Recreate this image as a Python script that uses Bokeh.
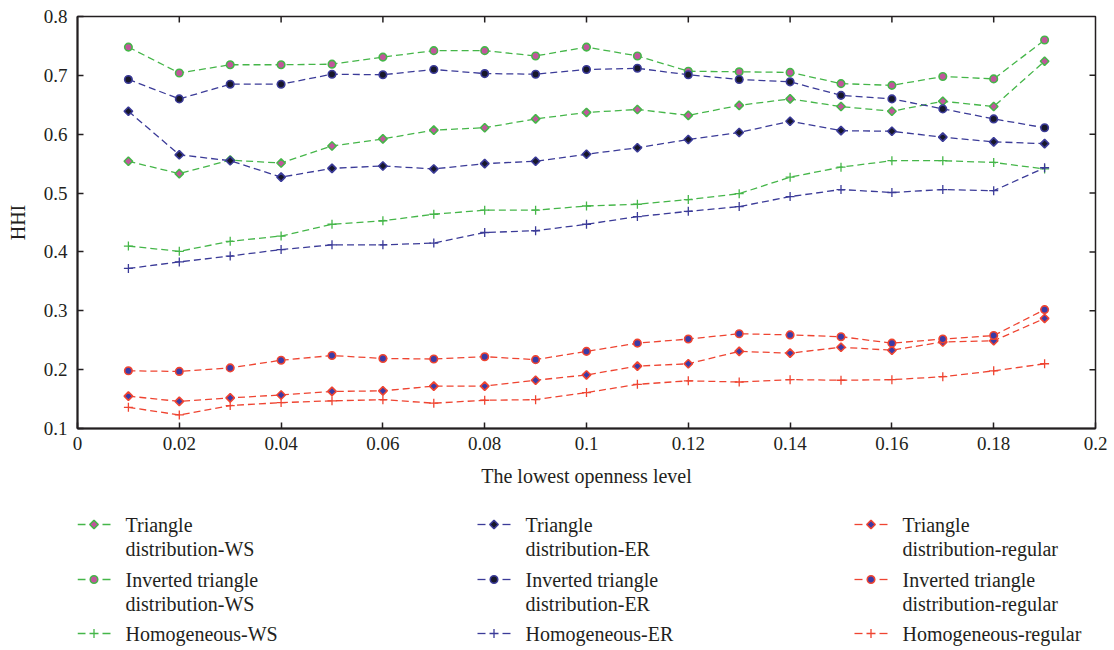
import numpy as np
from bokeh.plotting import figure
from bokeh.models import Range1d, FixedTicker
from bokeh.layouts import column
from bokeh.core.properties import value
from bokeh.embed import file_html
from bokeh.resources import INLINE

# ---------------- data ----------------
x = [0.01, 0.02, 0.03, 0.04, 0.05, 0.06, 0.07, 0.08, 0.09, 0.10,
     0.11, 0.12, 0.13, 0.14, 0.15, 0.16, 0.17, 0.18, 0.19]

tri_ws = [0.554, 0.533, 0.556, 0.551, 0.580, 0.592, 0.607, 0.611, 0.626, 0.637,
          0.642, 0.632, 0.649, 0.660, 0.647, 0.639, 0.656, 0.647, 0.724]
inv_ws = [0.748, 0.704, 0.718, 0.718, 0.719, 0.731, 0.742, 0.742, 0.733, 0.748,
          0.733, 0.707, 0.706, 0.705, 0.686, 0.683, 0.698, 0.694, 0.760]
hom_ws = [0.410, 0.401, 0.418, 0.427, 0.447, 0.453, 0.464, 0.471, 0.471, 0.478,
          0.481, 0.489, 0.499, 0.527, 0.544, 0.555, 0.555, 0.552, 0.541]

tri_er = [0.639, 0.565, 0.555, 0.527, 0.542, 0.546, 0.541, 0.550, 0.554, 0.566,
          0.577, 0.591, 0.603, 0.622, 0.606, 0.605, 0.595, 0.587, 0.584]
inv_er = [0.693, 0.660, 0.685, 0.685, 0.702, 0.701, 0.710, 0.703, 0.702, 0.710,
          0.712, 0.701, 0.693, 0.689, 0.666, 0.660, 0.643, 0.626, 0.611]
hom_er = [0.372, 0.383, 0.393, 0.404, 0.412, 0.412, 0.415, 0.433, 0.436, 0.447,
          0.460, 0.469, 0.477, 0.494, 0.506, 0.501, 0.506, 0.504, 0.543]

tri_reg = [0.155, 0.146, 0.152, 0.157, 0.163, 0.164, 0.172, 0.172, 0.182, 0.191,
           0.206, 0.210, 0.231, 0.228, 0.238, 0.233, 0.247, 0.249, 0.287]
inv_reg = [0.198, 0.197, 0.203, 0.216, 0.224, 0.219, 0.218, 0.222, 0.217, 0.231,
           0.245, 0.252, 0.261, 0.259, 0.256, 0.245, 0.252, 0.258, 0.302]
hom_reg = [0.136, 0.123, 0.139, 0.144, 0.147, 0.149, 0.143, 0.148, 0.149, 0.161,
           0.175, 0.181, 0.179, 0.183, 0.182, 0.183, 0.188, 0.198, 0.210]

x_ticks = [0, 0.02, 0.04, 0.06, 0.08, 0.1, 0.12, 0.14, 0.16, 0.18, 0.2]
x_tick_labels = ["0", "0.02", "0.04", "0.06", "0.08", "0.1", "0.12", "0.14", "0.16", "0.18", "0.2"]
y_ticks = [0.1, 0.2, 0.3, 0.4, 0.5, 0.6, 0.7, 0.8]
y_tick_labels = ["0.1", "0.2", "0.3", "0.4", "0.5", "0.6", "0.7", "0.8"]

labels = [
    ["Triangle\ndistribution-WS", "Inverted triangle\ndistribution-WS", "Homogeneous-WS"],
    ["Triangle\ndistribution-ER", "Inverted triangle\ndistribution-ER", "Homogeneous-ER"],
    ["Triangle\ndistribution-regular", "Inverted triangle\ndistribution-regular", "Homogeneous-regular"],
]

# ---------------- styles ----------------
FONT = "Liberation Serif"
TXT = "#231f20"
GREEN = "#45b649"
PINK = "#c2559c"
NAVY = "#3b3b98"
DARK = "#17172a"
RED = "#ef4431"
BLUE = "#3b3ba6"
DASH = "7 4"

groups = [
    (GREEN, PINK, [tri_ws, inv_ws, hom_ws]),
    (NAVY, DARK, [tri_er, inv_er, hom_er]),
    (RED, BLUE, [tri_reg, inv_reg, hom_reg]),
]

W = 1114
H_MAIN = 500
H_LEG = 150
BL, BR, BT, BB = 77, 19, 16, 72
FRAME_W = W - BL - BR
FRAME_H = H_MAIN - BT - BB
XMIN, XMAX, YMIN, YMAX = 0.0, 0.2, 0.1, 0.8
TICK_PX = 6

p = figure(width=W, height=H_MAIN, output_backend="svg", toolbar_location=None,
           x_range=Range1d(XMIN, XMAX), y_range=Range1d(YMIN, YMAX),
           min_border_left=BL, min_border_right=BR, min_border_top=BT, min_border_bottom=BB)
p.grid.visible = False
p.outline_line_color = TXT
p.outline_line_width = 1.5
p.background_fill_color = "white"
p.border_fill_color = "white"

for ax, ticks, labs in ((p.xaxis[0], x_ticks, x_tick_labels), (p.yaxis[0], y_ticks, y_tick_labels)):
    ax.ticker = FixedTicker(ticks=ticks)
    ax.major_label_overrides = {t: l for t, l in zip(ticks, labs)}
    ax.axis_line_color = TXT
    ax.axis_line_width = 2
    ax.major_tick_line_color = TXT
    ax.major_tick_line_width = 1.5
    ax.major_tick_in = TICK_PX
    ax.major_tick_out = 0
    ax.minor_tick_line_color = None
    ax.major_label_text_font = FONT
    ax.major_label_text_font_size = "19px"
    ax.major_label_text_color = TXT
    ax.axis_label_text_font = FONT
    ax.axis_label_text_font_size = "20px"
    ax.axis_label_text_font_style = "normal"
    ax.axis_label_text_color = TXT
    ax.axis_label_standoff = 12
p.xaxis[0].major_label_standoff = 8
p.yaxis[0].major_label_standoff = 10
p.xaxis.axis_label = "The lowest openness level"
p.yaxis.axis_label = "HHI"

# inward ticks on the top and right edges of the box
dy = TICK_PX * (YMAX - YMIN) / FRAME_H
dx = TICK_PX * (XMAX - XMIN) / FRAME_W
top_x = x_ticks[1:-1]
p.segment(x0=top_x, y0=[YMAX] * len(top_x), x1=top_x, y1=[YMAX - dy] * len(top_x),
          line_color=TXT, line_width=1.5)
right_y = y_ticks[1:-1]
p.segment(x0=[XMAX] * len(right_y), y0=right_y, x1=[XMAX - dx] * len(right_y), y1=right_y,
          line_color=TXT, line_width=1.5)

MARK_KW = [
    dict(marker="square", angle=np.pi / 4, size=6),
    dict(marker="circle", size=7.5),
    dict(marker="cross", size=9),
]

for lc, fc, series in groups:
    for ys in series:
        p.line(x, ys, line_color=lc, line_width=1.3, line_dash=DASH)
    for k, ys in enumerate(series):
        kw = MARK_KW[k]
        if kw["marker"] == "cross":
            p.scatter(x, ys, line_color=lc, line_width=1.3, **kw)
        else:
            p.scatter(x, ys, line_color=lc, fill_color=fc, line_width=1.6, **kw)

# ---------------- legend (pixel coordinates of the page) ----------------
leg = figure(width=W, height=H_LEG, output_backend="svg", toolbar_location=None,
             x_range=Range1d(BL, W - BR), y_range=Range1d(H_MAIN + H_LEG, H_MAIN),
             min_border_left=BL, min_border_right=BR, min_border_top=0, min_border_bottom=0)
leg.axis.visible = False
leg.grid.visible = False
leg.outline_line_color = None
leg.background_fill_color = "white"
leg.border_fill_color = "white"

col_text_x = [125, 525, 902]
row_y = [524, 579, 633]
line_gap = 24

for c, (lc, fc, series) in enumerate(groups):
    tx = col_text_x[c]
    for r in range(3):
        yy = row_y[r]
        leg.segment(x0=[tx - 48, tx - 23], y0=[yy, yy], x1=[tx - 40, tx - 15], y1=[yy, yy],
                    line_color=lc, line_width=1.3)
        kw = MARK_KW[r]
        if kw["marker"] == "cross":
            leg.scatter([tx - 31.5], [yy], line_color=lc, line_width=1.3, **kw)
        else:
            leg.scatter([tx - 31.5], [yy], line_color=lc, fill_color=fc, line_width=1.6, **kw)
        lines = labels[c][r].split("\n")
        leg.text(x=[tx] * len(lines), y=[yy + i * line_gap for i in range(len(lines))],
                 text=lines, text_font=value(FONT), text_font_size="20px",
                 text_color=TXT, text_baseline="middle", text_align="left")

layout = column(p, leg, spacing=0)
open("out.html", "w").write(file_html(layout, INLINE))
